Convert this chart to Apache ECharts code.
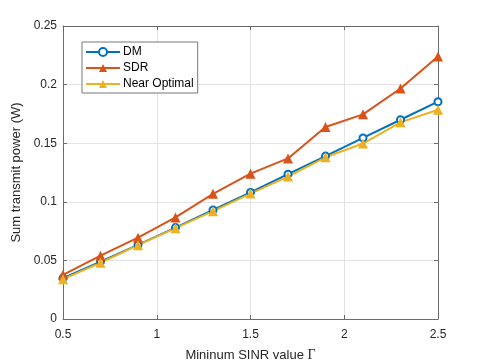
<!DOCTYPE html>
<html>
<head>
<meta charset="utf-8">
<script src="https://cdn.jsdelivr.net/npm/echarts@6/dist/echarts.min.js"></script>
<style>
  html, body { margin: 0; padding: 0; background: #fff; }
  #chart { width: 485px; height: 363px; }
</style>
</head>
<body>
<div id="chart"></div>
<script>
const sinr = [0.5, 0.7, 0.9, 1.1, 1.3, 1.5, 1.7, 1.9, 2.1, 2.3, 2.5];
const dmPower = [0.0349, 0.049, 0.0632, 0.078, 0.093, 0.108, 0.1236, 0.139, 0.1545, 0.170, 0.1854];
const sdrPower = [0.0377, 0.054, 0.0694, 0.0867, 0.1068, 0.124, 0.137, 0.1638, 0.1746, 0.1967, 0.224];
const nearOptPower = [0.034, 0.048, 0.063, 0.0775, 0.092, 0.107, 0.1215, 0.138, 0.1497, 0.1678, 0.1786];

const font = 'Liberation Sans, Arial, Helvetica, sans-serif';
const textColor = '#262626';
const axisColor = '#6b6b6b';

function pairs(xs, ys) {
  return xs.map((x, i) => [x, ys[i]]);
}

const chart = echarts.init(document.getElementById('chart'));

const baseX = {
  type: 'value', min: 0.5, max: 2.5, interval: 0.5,
  axisLine: { show: true, onZero: false, lineStyle: { color: axisColor, width: 1 } },
  axisTick: { show: true, inside: true, length: 4, lineStyle: { color: axisColor } },
};
const baseY = {
  type: 'value', min: 0, max: 0.25, interval: 0.05,
  axisLine: { show: true, onZero: false, lineStyle: { color: axisColor, width: 1 } },
  axisTick: { show: true, inside: true, length: 4, lineStyle: { color: axisColor } },
};

chart.setOption({
  animation: false,
  backgroundColor: '#fff',
  textStyle: { fontFamily: font },
  grid: { left: 63, right: 47, top: 26, bottom: 44, containLabel: false, outerBoundsMode: 'none' },
  legend: {
    orient: 'vertical',
    left: 82,
    top: 42,
    itemWidth: 34,
    itemHeight: 10,
    itemGap: 4,
    padding: [4, 4, 3, 3],
    backgroundColor: '#fff',
    borderColor: '#777',
    borderWidth: 1,
    textStyle: { fontFamily: font, fontSize: 12, color: '#000', padding: [0, 0, 0, -2] },
    data: ['DM', 'SDR', 'Near Optimal'],
  },
  xAxis: [
    Object.assign({}, baseX, {
      position: 'bottom',
      name: 'Mininum SINR value {g|Γ}',
      nameLocation: 'middle',
      nameGap: 29,
      nameTextStyle: {
        fontFamily: font, fontSize: 13, color: textColor,
        rich: { g: { fontFamily: 'Liberation Serif, DejaVu Serif, serif', fontSize: 14, color: textColor } },
      },
      axisLabel: { fontFamily: font, fontSize: 12, color: textColor, margin: 10 },
      splitLine: { show: true, lineStyle: { color: '#e3e3e3', width: 1 } },
    }),
    Object.assign({}, baseX, {
      position: 'top',
      axisLabel: { show: false },
      splitLine: { show: false },
    }),
  ],
  yAxis: [
    Object.assign({}, baseY, {
      position: 'left',
      name: 'Sum transmit power (W)',
      nameLocation: 'middle',
      nameGap: 34,
      nameTextStyle: { fontFamily: font, fontSize: 13, color: textColor },
      axisLabel: { fontFamily: font, fontSize: 12, color: textColor, margin: 6 },
      splitLine: { show: true, lineStyle: { color: '#e3e3e3', width: 1 } },
    }),
    Object.assign({}, baseY, {
      position: 'right',
      axisLabel: { show: false },
      splitLine: { show: false },
    }),
  ],
  series: [
    {
      name: 'DM', type: 'line', data: pairs(sinr, dmPower),
      symbol: 'emptyCircle', symbolSize: 7,
      lineStyle: { color: '#0072BD', width: 2 },
      itemStyle: { color: '#0072BD', borderWidth: 1.6 },
    },
    {
      name: 'SDR', type: 'line', data: pairs(sinr, sdrPower),
      symbol: 'triangle', symbolSize: 10,
      lineStyle: { color: '#D95319', width: 2 },
      itemStyle: { color: '#D95319' },
    },
    {
      name: 'Near Optimal', type: 'line', data: pairs(sinr, nearOptPower),
      symbol: 'triangle', symbolSize: 10,
      lineStyle: { color: '#EDB120', width: 2 },
      itemStyle: { color: '#EDB120' },
    },
  ],
});
</script>
</body>
</html>
